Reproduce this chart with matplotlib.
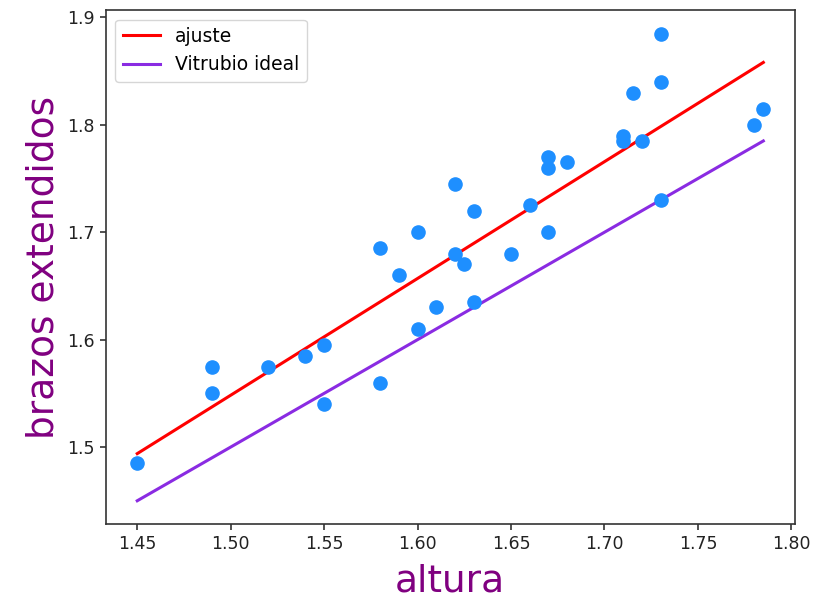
import numpy as np
import matplotlib
matplotlib.use("Agg")
import matplotlib.pyplot as plt

# Height (m) and arm span (m) of each person
altura = [1.45, 1.49, 1.49, 1.52, 1.54, 1.55, 1.55, 1.58, 1.58, 1.59, 1.60,
          1.60, 1.61, 1.62, 1.62, 1.625, 1.63, 1.63, 1.65, 1.66, 1.67, 1.67,
          1.67, 1.68, 1.71, 1.71, 1.715, 1.72, 1.73, 1.73, 1.73, 1.78, 1.785]
brazos = [1.485, 1.575, 1.55, 1.575, 1.585, 1.595, 1.54, 1.685, 1.56, 1.66, 1.70,
          1.61, 1.63, 1.745, 1.68, 1.67, 1.72, 1.635, 1.68, 1.725, 1.77, 1.76,
          1.70, 1.765, 1.79, 1.785, 1.83, 1.785, 1.885, 1.84, 1.73, 1.80, 1.815]

x = np.array(altura)
y = np.array(brazos)

# least-squares fit and Vitruvian ideal (arm span == height)
m, b = np.polyfit(x, y, 1)
xs = np.array([x.min(), x.max()])

fig = plt.figure(figsize=(8.15, 5.99), dpi=100)
ax = fig.add_axes([0.130, 0.125, 0.845, 0.858])

ax.scatter(x, y, s=90, color="#1E8FFF", zorder=3)
ax.plot(xs, m * xs + b, color="red", lw=2.2, label="ajuste")
ax.plot(xs, xs, color="#8A2BE2", lw=2.2, label="Vitrubio ideal")

ax.set_xticks([1.45, 1.50, 1.55, 1.60, 1.65, 1.70, 1.75, 1.80])
ax.set_yticks([1.5, 1.6, 1.7, 1.8, 1.9])
ax.tick_params(labelsize=12.5, length=4.5, width=1.1, colors="#222222")
for sp in ax.spines.values():
    sp.set_linewidth(1.2)
    sp.set_color("#333333")

ax.set_xlabel("altura", fontsize=27, color="purple", labelpad=7.5)
ax.set_ylabel("brazos extendidos", fontsize=27, color="purple", labelpad=4)
ax.legend(loc="upper left", fontsize=13.5)

fig.savefig("out.png", dpi=100)
